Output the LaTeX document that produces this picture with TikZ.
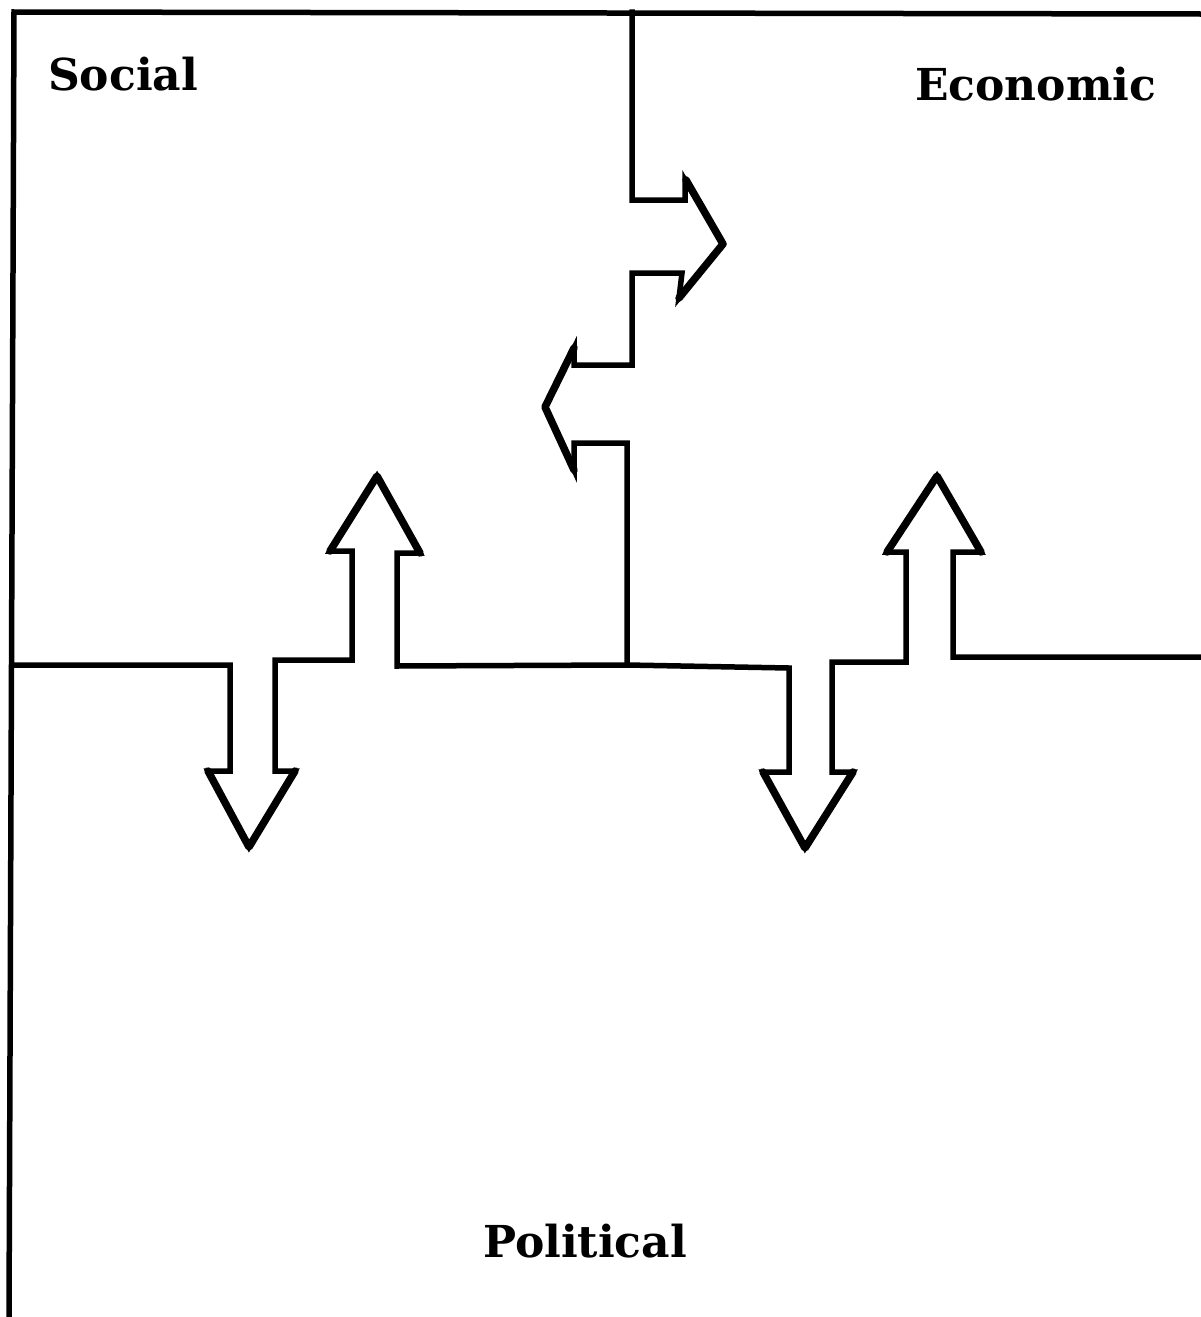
\documentclass[tikz,border=0pt]{standalone}
\usepackage{fontspec}
\setmainfont{DejaVu Serif}
\begin{document}
\begin{tikzpicture}[x=1pt,y=-1pt,
  frame/.style={line width=5.5pt,line join=miter,line cap=rect},
  headline/.style={line width=7.5pt,line cap=round,line join=round},
  lbl/.style={font=\bfseries\fontsize{44}{48}\selectfont,inner sep=0pt,anchor=base west}]
\useasboundingbox (0,0) rectangle (1200,1317);
% outer frame (top and left)
\draw[frame] (9,1317) -- (14,12) -- (1200,14);
% stepped divider with right/left arrows
\coordinate (t0) at (632,12);
\coordinate (m0) at (627,665);
\draw[frame] (t0) -- (632,200) -- (685,200) -- (685,180) -- (723,244)
  -- (679,298) -- (682,273) -- (632,273) -- (632,365) -- (574,365) -- (574,348)
  -- (545,407) -- (574,470) -- (574,443) -- (627,443) -- (m0);
\draw[headline] (686,180) -- (723,244) -- (679,298);
\draw[headline] (574,348) -- (545,407) -- (574,470);
% horizontal divider with up/down arrows
\coordinate (l0) at (12,665);
\coordinate (r0) at (1200,657);
\draw[frame] (l0) -- (230,665) -- (230,771) -- (208,771) -- (249,847) -- (295,771)
  -- (275,771) -- (275,660) -- (352,660) -- (352,551) -- (330,551) -- (377,476)
  -- (420,553) -- (397,553) -- (397,666) -- (m0) -- (789,668) -- (789,772) -- (763,772)
  -- (805,848) -- (853,772) -- (832,772) -- (832,662) -- (906,662) -- (906,552)
  -- (887,552) -- (937,476) -- (981,552) -- (953,552) -- (953,657) -- (r0);
\draw[headline] (330,551) -- (377,476) -- (420,553);
\draw[headline] (208,771) -- (249,847) -- (295,771);
\draw[headline] (763,772) -- (805,848) -- (853,772);
\draw[headline] (887,552) -- (937,476) -- (981,552);
\node[lbl] (social) at (48,90) {Social};
\node[lbl] (economic) at (915,100) {Economic};
\node[lbl] (political) at (483,1257) {Political};
\end{tikzpicture}
\end{document}
